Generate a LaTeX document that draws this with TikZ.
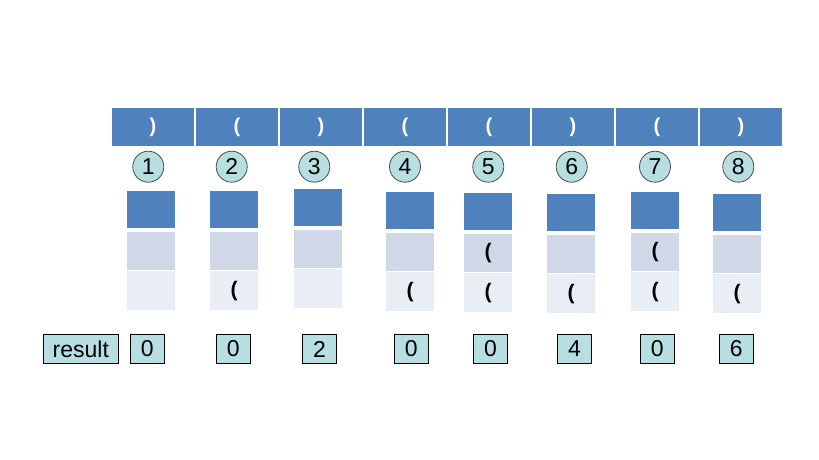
\documentclass[tikz,border=0pt]{standalone}
\usepackage{fontspec}
\setmainfont{Liberation Sans}
\definecolor{barblue}{HTML}{4F81BD}
\definecolor{midgray}{HTML}{D0D8E8}
\definecolor{lightgray}{HTML}{E9EDF4}
\definecolor{teal}{HTML}{B7DEE1}
\tikzset{
  topcell/.style={fill=barblue, draw=white, line width=1.5pt, minimum width=84pt, minimum height=40pt, inner sep=0pt, outer sep=0pt, text=white, font=\fontsize{20}{22}\selectfont\bfseries},
  numcirc/.style={circle, fill=teal, draw=black!70, line width=0.8pt, minimum size=31pt, inner sep=0pt, font=\fontsize{23}{25}\selectfont},
  darkbox/.style={fill=barblue, minimum width=48pt, minimum height=37pt, inner sep=0pt, anchor=north},
  midbox/.style={fill=midgray, minimum width=48pt, minimum height=38pt, inner sep=0pt, anchor=north, font=\fontsize{21}{23}\selectfont\bfseries},
  lightbox/.style={fill=lightgray, minimum width=48pt, minimum height=39pt, inner sep=0pt, anchor=north, font=\fontsize{21}{23}\selectfont\bfseries},
  resbox/.style={fill=teal, draw=black, line width=0.6pt, minimum width=34pt, minimum height=29.5pt, inner sep=0pt, font=\fontsize{23}{25}\selectfont},
}
\begin{document}
\begin{tikzpicture}[x=1pt, y=-1pt]
\useasboundingbox (0,0) rectangle (819,460);
% top bar
\foreach \i/\t in {1/),2/(,3/),4/(,5/(,6/),7/(,8/)} {
  \node[topcell] (t\i) at ({111+84*(\i-1)+42},127) {\t};
}
% circles
\foreach \i/\x in {1/148.3,2/231.7,3/314.3,4/405,5/488.3,6/571.7,7/655,8/738.3} {
  \node[numcirc] (c\i) at (\x,166.7) {\i};
}
% stacks
\foreach \i/\x/\y/\m/\l in {1/151/191//,2/234/191//(,3/318/189//,4/410/192//(,5/488/193/(/(,6/571/194//(,7/655/192/(/(,8/737/194//(} {
  \node[darkbox] (d\i) at (\x,\y) {};
  \node[midbox] (m\i) at (\x,\y+41) {\m};
  \node[lightbox] (l\i) at (\x,\y+80) {\l};
}
% results
\node[resbox, minimum width=75pt] (res) at (80.8,349) {result};
\foreach \i/\x/\v in {1/147.2/0,2/233.2/0,3/319.5/2,4/411.2/0,5/490.5/0,6/574.5/4,7/657.2/0,8/736.2/6} {
  \node[resbox] (r\i) at (\x,349) {\v};
}
\end{tikzpicture}
\end{document}
